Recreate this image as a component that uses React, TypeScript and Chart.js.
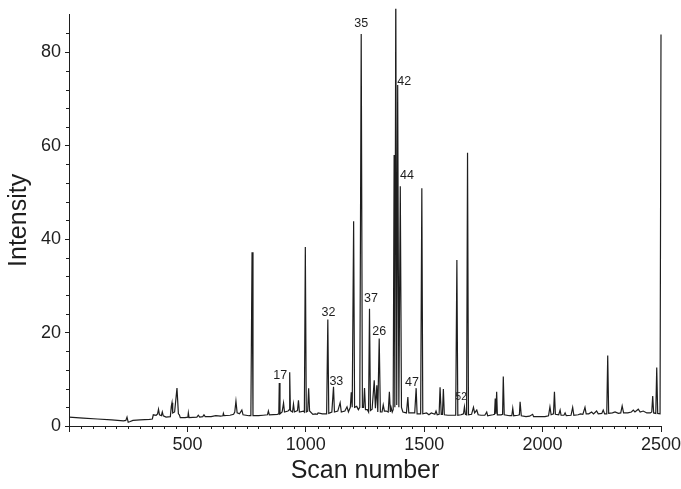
import React, { useEffect, useRef } from 'react';
import { Chart, registerables } from 'chart.js';

Chart.register(...registerables);

// Scan numbers and intensities
const scans: number[] = [
  0, 60, 120, 180, 230, 240, 245, 250, 256, 270, 300, 340, 352, 356, 368, 374, 378, 382, 390, 394,
  398, 410, 428, 432, 435, 438, 446, 456, 462, 466, 470, 490, 502, 504, 507, 540, 546, 552, 565, 570,
  575, 600, 620, 640, 650, 652, 655, 680, 695, 700, 705, 710, 720, 730, 735, 760, 768, 773, 777, 800,
  820, 838, 842, 846, 880, 886, 888, 891, 900, 906, 910, 925, 930, 932, 935, 944, 948, 952, 965, 969,
  973, 990, 994, 998, 1002, 1008, 1012, 1016, 1030, 1040, 1048, 1052, 1070, 1088, 1093, 1097, 1110, 1117, 1121, 1135,
  1145, 1150, 1165, 1174, 1180, 1188, 1192, 1196, 1202, 1206, 1215, 1222, 1228, 1234, 1239, 1244, 1248, 1252, 1260, 1265,
  1269, 1273, 1280, 1289, 1294, 1300, 1304, 1310, 1315, 1322, 1327, 1332, 1340, 1348, 1353, 1357, 1360, 1365, 1369, 1373,
  1376, 1380, 1384, 1388, 1393, 1399, 1404, 1410, 1425, 1431, 1435, 1450, 1460, 1466, 1470, 1485, 1490, 1494, 1510, 1520,
  1530, 1545, 1550, 1555, 1563, 1567, 1572, 1577, 1581, 1585, 1600, 1620, 1633, 1638, 1642, 1655, 1660, 1666, 1670, 1674,
  1679, 1683, 1687, 1700, 1708, 1713, 1722, 1728, 1740, 1756, 1764, 1768, 1790, 1797, 1800, 1803, 1806, 1809, 1825, 1831,
  1834, 1838, 1860, 1870, 1874, 1878, 1895, 1902, 1905, 1910, 1930, 1945, 1958, 1962, 1990, 2010, 2025, 2031, 2036, 2046,
  2050, 2054, 2068, 2074, 2078, 2090, 2095, 2100, 2120, 2127, 2132, 2150, 2160, 2170, 2179, 2184, 2195, 2207, 2215, 2228,
  2235, 2250, 2256, 2262, 2271, 2275, 2279, 2295, 2306, 2320, 2330, 2336, 2342, 2360, 2375, 2383, 2390, 2404, 2412, 2425,
  2440, 2455, 2461, 2465, 2469, 2478, 2482, 2486, 2496, 2500,
];

const intensities: number[] = [
  1.9, 1.7, 1.5, 1.3, 1.1, 1.2, 1.9, 0.8, 0.9, 1.2, 1.3, 1.4, 1.5, 2.4, 2.3, 2.6, 3.6, 2.4, 2.2, 3.0,
  2.2, 1.9, 2.0, 4.2, 5.0, 2.8, 3.0, 8.1, 2.6, 2.4, 1.8, 1.8, 1.9, 2.8, 1.8, 1.9, 2.3, 1.9, 2.0, 2.4,
  2.0, 2.0, 2.2, 2.1, 2.2, 2.7, 2.2, 2.3, 2.5, 3.0, 5.3, 2.8, 2.6, 3.4, 2.4, 2.2, 2.2, 37.2, 2.2, 2.2,
  2.3, 2.4, 3.2, 2.4, 2.5, 2.6, 9.2, 2.6, 3.0, 4.9, 3.0, 3.2, 3.5, 11.5, 3.3, 3.0, 4.7, 3.0, 3.3, 5.5,
  3.0, 3.2, 3.0, 38.3, 3.0, 3.2, 8.1, 3.2, 2.5, 2.6, 2.5, 2.8, 2.6, 2.6, 22.8, 2.7, 3.0, 8.4, 3.0, 3.2,
  5.0, 3.0, 3.2, 4.1, 3.0, 4.0, 7.2, 4.0, 43.8, 4.0, 4.2, 3.5, 4.0, 83.9, 4.0, 4.0, 8.1, 3.5, 3.5, 3.0,
  25.1, 3.3, 3.6, 9.8, 3.8, 8.7, 3.0, 18.7, 3.0, 3.0, 4.5, 3.2, 3.2, 3.0, 7.3, 3.0, 4.0, 3.0, 3.5, 58.0,
  4.0, 95.0, 4.5, 73.0, 4.0, 51.3, 4.0, 3.0, 2.8, 6.2, 2.8, 2.8, 2.8, 8.1, 2.6, 2.6, 50.9, 2.6, 2.8, 2.4,
  2.8, 2.5, 3.2, 2.4, 2.5, 8.3, 2.5, 2.5, 7.9, 2.4, 2.3, 2.3, 2.3, 35.5, 2.3, 2.4, 2.5, 2.6, 4.1, 2.5,
  2.4, 58.5, 2.4, 2.5, 4.0, 2.8, 3.4, 2.4, 2.3, 2.3, 3.0, 2.2, 2.4, 2.5, 5.9, 2.6, 7.3, 2.4, 2.4, 2.5,
  10.6, 2.4, 2.2, 2.2, 3.8, 2.2, 2.3, 2.4, 5.2, 2.2, 2.0, 2.1, 2.5, 2.0, 2.0, 2.0, 2.2, 4.1, 2.4, 2.6,
  7.3, 2.5, 2.4, 3.4, 2.3, 2.3, 2.8, 2.2, 2.3, 4.0, 2.3, 2.4, 2.6, 2.5, 4.0, 2.6, 2.6, 3.0, 2.6, 3.2,
  2.6, 2.7, 3.4, 2.6, 2.6, 15.1, 2.7, 2.8, 3.0, 2.7, 2.8, 4.3, 2.8, 2.8, 3.0, 3.4, 3.0, 3.6, 3.0, 3.2,
  2.8, 2.8, 3.0, 6.4, 2.8, 2.7, 12.5, 2.7, 2.6, 83.8,
];

// Peak annotations
const labelTexts: string[] = ['17', '32', '33', '35', '37', '26', '42', '44', '47', '52'];
const labelScans: number[] = [892, 1096, 1129, 1234, 1275, 1310, 1416, 1427, 1448, 1656];
const labelValues: number[] = [10.7, 24.2, 9.6, 86.2, 27.2, 20.3, 73.8, 53.5, 9.4, 6.2];

const FONT = '"Liberation Sans", Arial, sans-serif';
const INK = '#1e1e1e';

const overlayPlugin = {
  id: 'overlay',
  afterDatasetsDraw(chart: any) {
    const { ctx, chartArea } = chart;
    const xs = chart.scales.x;
    const ys = chart.scales.y;
    ctx.save();
    // minor ticks
    ctx.strokeStyle = INK;
    ctx.lineWidth = 1;
    ctx.beginPath();
    for (let v = 50; v < 2500; v += 50) {
      if (v % 500 === 0) continue;
      const px = Math.round(xs.getPixelForValue(v)) + 0.5;
      ctx.moveTo(px, chartArea.bottom);
      ctx.lineTo(px, chartArea.bottom + 3);
    }
    for (let v = 4; v <= 84; v += 4) {
      if (v % 20 === 0) continue;
      const py = Math.round(ys.getPixelForValue(v)) + 0.5;
      ctx.moveTo(chartArea.left - 3, py);
      ctx.lineTo(chartArea.left, py);
    }
    ctx.stroke();
    // peak labels
    ctx.fillStyle = INK;
    ctx.textAlign = 'center';
    ctx.textBaseline = 'middle';
    labelTexts.forEach((t, i) => {
      ctx.font = (t === '52' ? '10px ' : '12.5px ') + FONT;
      ctx.fillText(t, xs.getPixelForValue(labelScans[i]), ys.getPixelForValue(labelValues[i]));
    });
    ctx.restore();
  },
};

export default function App() {
  const ref = useRef<HTMLCanvasElement>(null);
  useEffect(() => {
    document.body.style.margin = '0';
    const points = scans.map((s, i) => ({ x: s, y: intensities[i] }));
    const chart = new Chart(ref.current as HTMLCanvasElement, {
      type: 'line',
      data: {
        datasets: [
          {
            data: points,
            borderColor: INK,
            borderWidth: 1.2,
            pointRadius: 0,
            tension: 0,
            fill: false,
            clip: { left: 0, top: 6, right: 4, bottom: 0 } as any,
          },
        ],
      },
      options: {
        responsive: false,
        animation: false,
        layout: { padding: { left: 0, right: 20, top: 14, bottom: 0 } },
        plugins: { legend: { display: false }, tooltip: { enabled: false } },
        scales: {
          x: {
            type: 'linear',
            min: 0,
            max: 2500,
            afterFit: (s: any) => {
              s.height = 63;
              s.paddingLeft = 0;
              s.paddingRight = 0;
            },
            border: { display: true, color: INK, width: 1 },
            grid: { display: true, drawOnChartArea: false, drawTicks: true, tickLength: 6, color: INK },
            ticks: {
              stepSize: 500,
              autoSkip: false,
              maxRotation: 0,
              includeBounds: false,
              padding: 2,
              color: INK,
              font: { family: FONT, size: 18 },
              callback: (v: any) => (v === 0 ? '' : String(v)),
            },
            title: {
              display: true,
              text: 'Scan number',
              color: INK,
              font: { family: FONT, size: 25 },
              padding: { top: 0, bottom: 3 },
            },
          },
          y: {
            min: 0,
            max: 88,
            afterFit: (s: any) => {
              s.width = 69;
            },
            border: { display: true, color: INK, width: 1 },
            grid: { display: true, drawOnChartArea: false, drawTicks: true, tickLength: 4, color: INK },
            ticks: {
              stepSize: 20,
              includeBounds: false,
              padding: 4,
              color: INK,
              font: { family: FONT, size: 18 },
            },
            title: {
              display: true,
              text: 'Intensity',
              color: INK,
              font: { family: FONT, size: 25 },
              padding: { top: 4, bottom: 0 },
            },
          },
        },
      },
      plugins: [overlayPlugin],
    });
    return () => chart.destroy();
  }, []);
  return <canvas ref={ref} width={681} height={489} />;
}
